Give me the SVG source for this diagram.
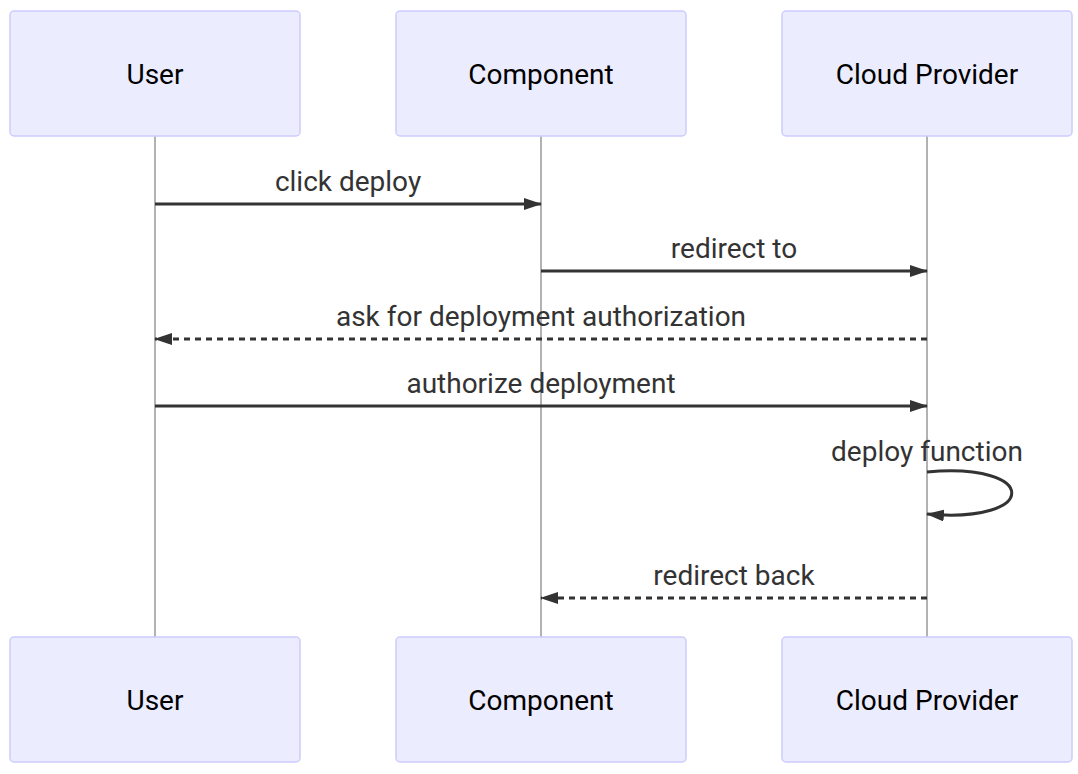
<svg xmlns="http://www.w3.org/2000/svg" width="1078" height="774" viewBox="0 0 1078 774">
<style>
.actor{fill:#ECECFF;stroke:#CCCCFF;stroke-width:1.5}
.atext{font-family:Roboto,"Liberation Sans",sans-serif;font-size:28px;fill:#000;text-anchor:middle;dominant-baseline:central}
.life{stroke:#999;stroke-width:1.5;fill:none}
.msg{stroke:#333;stroke-width:3;fill:none}
.dash{stroke-dasharray:6,5}
.mtext{font-family:Roboto,"Liberation Sans",sans-serif;font-size:28px;fill:#333;text-anchor:middle}
</style>
<defs>
<marker id="ah" markerWidth="18" markerHeight="12" refX="17" refY="6" orient="auto" markerUnits="userSpaceOnUse">
<path d="M0,0 L18,6 L0,12 z" fill="#333"/>
</marker>
</defs>
<rect width="1078" height="774" fill="#fff"/>
<g id="lifelines">
<line class="life" x1="155" y1="136" x2="155" y2="637"/>
<line class="life" x1="541" y1="136" x2="541" y2="637"/>
<line class="life" x1="927" y1="136" x2="927" y2="637"/>
</g>
<g id="user-top"><rect class="actor" x="10" y="11" width="290" height="125" rx="4"/><text class="atext" x="155" y="74">User</text></g>
<g id="component-top"><rect class="actor" x="396" y="11" width="290" height="125" rx="4"/><text class="atext" x="541" y="74">Component</text></g>
<g id="cloud-top"><rect class="actor" x="782" y="11" width="290" height="125" rx="4"/><text class="atext" x="927" y="74">Cloud Provider</text></g>
<g id="user-bottom"><rect class="actor" x="10" y="637" width="290" height="125" rx="4"/><text class="atext" x="155" y="700">User</text></g>
<g id="component-bottom"><rect class="actor" x="396" y="637" width="290" height="125" rx="4"/><text class="atext" x="541" y="700">Component</text></g>
<g id="cloud-bottom"><rect class="actor" x="782" y="637" width="290" height="125" rx="4"/><text class="atext" x="927" y="700">Cloud Provider</text></g>
<g id="connectors">
<line class="msg" x1="155" y1="204" x2="541" y2="204" marker-end="url(#ah)"/>
<text class="mtext" x="348" y="191">click deploy</text>
<line class="msg" x1="541" y1="271" x2="927" y2="271" marker-end="url(#ah)"/>
<text class="mtext" x="734" y="258">redirect to</text>
<line class="msg dash" x1="927" y1="339" x2="155" y2="339" marker-end="url(#ah)"/>
<text class="mtext" x="541" y="326">ask for deployment authorization</text>
<line class="msg" x1="155" y1="406" x2="927" y2="406" marker-end="url(#ah)"/>
<text class="mtext" x="541" y="393">authorize deployment</text>
<path class="msg" d="M927,472 C1040,462 1040,524 927,514" marker-end="url(#ah)"/>
<text class="mtext" x="927" y="461">deploy function</text>
<line class="msg dash" x1="927" y1="598" x2="541" y2="598" marker-end="url(#ah)"/>
<text class="mtext" x="734" y="585">redirect back</text>
</g>
</svg>
